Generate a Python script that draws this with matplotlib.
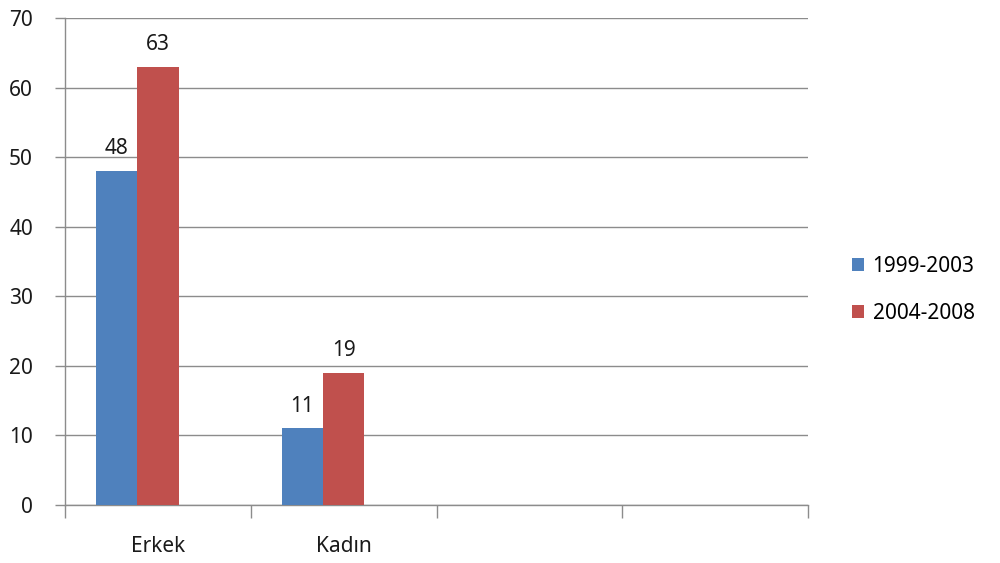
import numpy as np
import matplotlib
matplotlib.use('Agg')
import matplotlib.pyplot as plt
from matplotlib.ticker import FixedLocator, NullFormatter

plt.rcParams['font.family'] = ['Noto Sans', 'DejaVu Sans']

categories = ['Erkek', 'Kadın', '', '']
series_names = ['1999-2003', '2004-2008']
values_9903 = [48, 11, None, None]
values_0408 = [63, 19, None, None]

blue = '#4F81BD'
red = '#C0504D'
grid_col = '#8C8C8C'
fs = 15

fig = plt.figure(figsize=(10, 5.63), dpi=100)
ax = fig.add_axes([0.065, 0.103, 0.743, 0.865])

x = np.arange(len(categories))
w = 1 / 4.5   # excel style: 3 slots + 150% gap

series = [values_9903, values_0408]
colors = [blue, red]
offsets = [-w, 0.0]
for vals, col, off, name in zip(series, colors, offsets, series_names):
    xs = [xi + off for xi, v in zip(x, vals) if v is not None]
    vs = [v for v in vals if v is not None]
    bars = ax.bar(xs, vs, width=w, color=col, label=name, zorder=3, linewidth=0)
    for b, v in zip(bars, vs):
        ax.text(b.get_x() + b.get_width() / 2, v + 1.7, str(v), ha='center', va='bottom',
                fontsize=fs, color='#1a1a1a')

ax.set_xlim(-0.5, len(categories) - 0.5)
ax.set_ylim(0, 70)
ax.set_yticks(np.arange(0, 71, 10))
ax.yaxis.grid(True, color=grid_col, linewidth=1.0, zorder=0)
ax.set_axisbelow(True)

ax.set_xticks(x)
ax.set_xticklabels(categories, fontsize=fs, color='#1a1a1a')
ax.tick_params(axis='x', which='major', length=0, pad=22)
ax.xaxis.set_minor_locator(FixedLocator(np.arange(-0.5, len(categories), 1.0)))
ax.xaxis.set_minor_formatter(NullFormatter())
ax.tick_params(axis='x', which='minor', length=9, color=grid_col, width=1)
ax.tick_params(axis='y', length=7, color=grid_col, width=1, labelsize=fs, labelcolor='#1a1a1a', pad=16)

for s in ['top', 'right']:
    ax.spines[s].set_visible(False)
for s in ['left', 'bottom']:
    ax.spines[s].set_color(grid_col)
    ax.spines[s].set_linewidth(1.0)

fig.legend(loc='center left', bbox_to_anchor=(0.833, 0.485), frameon=False, fontsize=fs,
           handlelength=0.6, handleheight=0.6, handletextpad=0.4, labelspacing=1.25)

fig.savefig('out.png', dpi=100)
